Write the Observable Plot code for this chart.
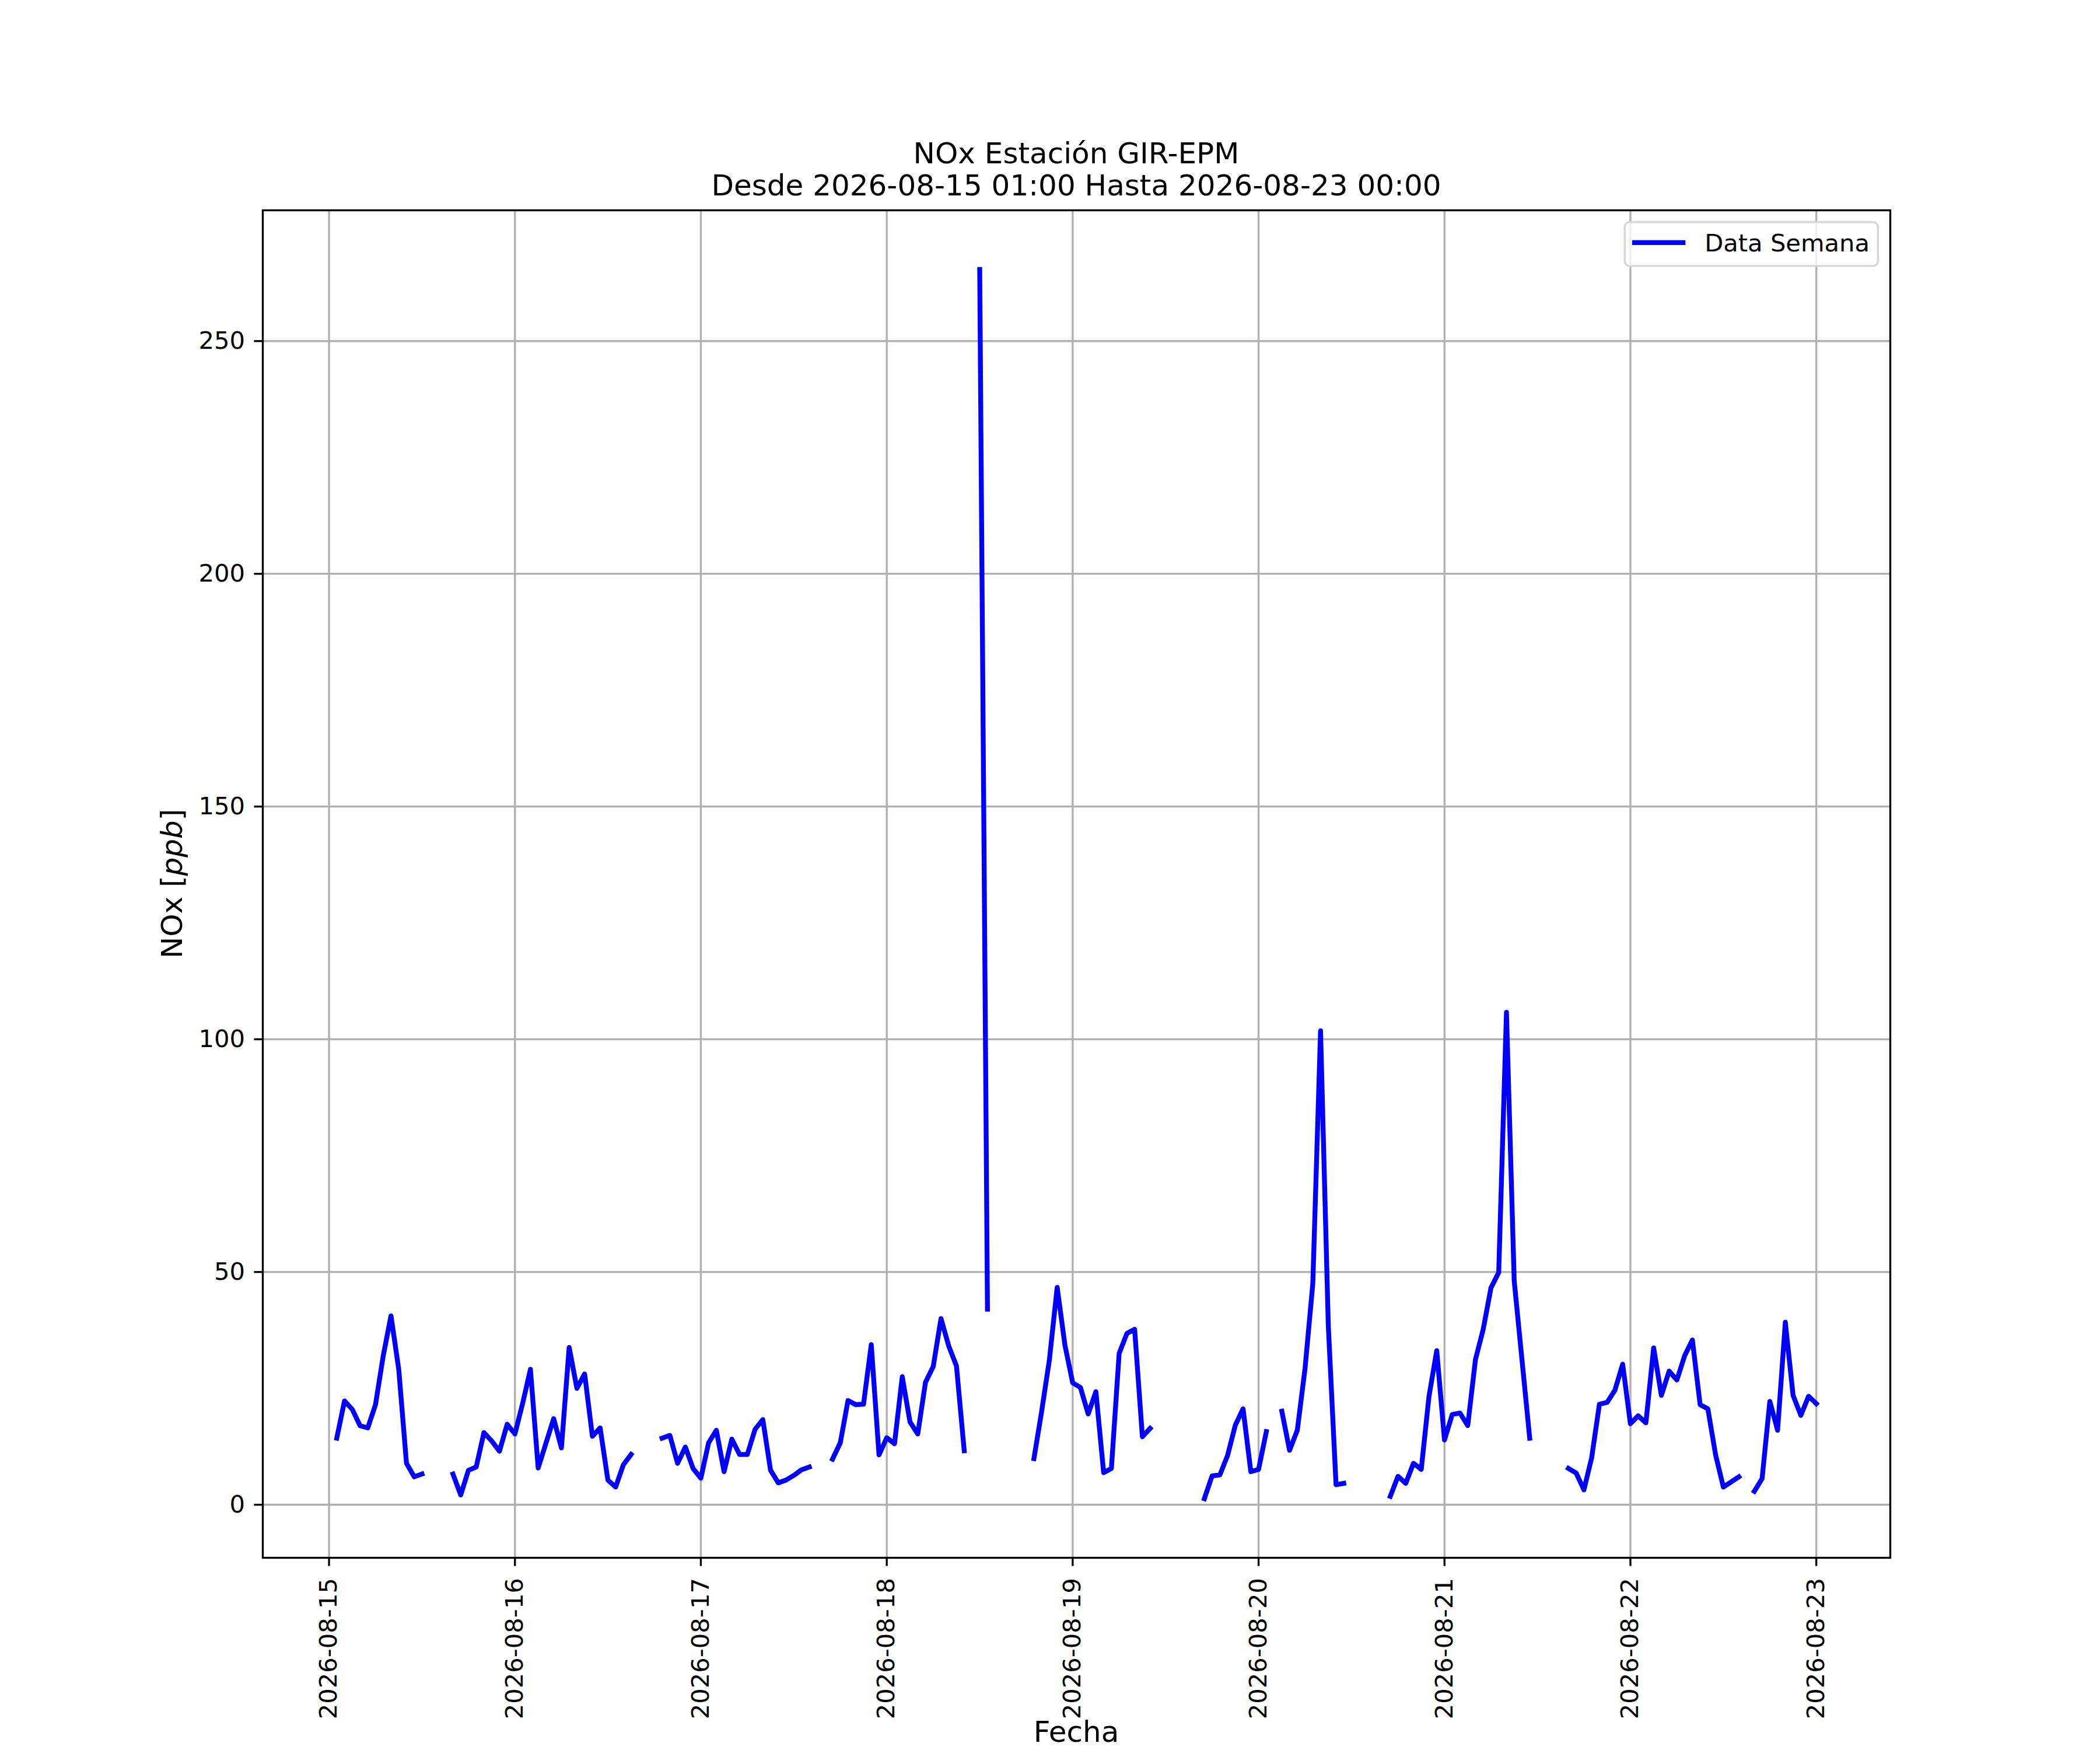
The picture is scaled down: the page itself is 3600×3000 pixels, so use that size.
<!DOCTYPE html>
<html>
<head>
<meta charset="utf-8">
<script src="https://cdn.jsdelivr.net/npm/d3@7"></script>
<script src="https://cdn.jsdelivr.net/npm/@observablehq/plot@0.6"></script>
<style>
  html, body { margin: 0; padding: 0; background: #ffffff; }
  svg { display: block; }
</style>
</head>
<body>
<div id="chart"></div>
<script>
// ---- Text ----
const titleLine1 = "NOx Estación GIR-EPM";
const titleLine2 = "Desde 2026-08-15 01:00 Hasta 2026-08-23 00:00";
const xLabel = "Fecha";
const seriesName = "Data Semana";

// ---- Ticks ----
const yTicks = [0, 50, 100, 150, 200, 250];
const xTickLabels = ["2026-08-15", "2026-08-16", "2026-08-17", "2026-08-18", "2026-08-19",
                     "2026-08-20", "2026-08-21", "2026-08-22", "2026-08-23"];

// ---- Data: hourly NOx [ppb], 01:00 .. 24:00 (next day 00:00) for each start day; null = missing ----
const days = ["2026-08-15", "2026-08-16", "2026-08-17", "2026-08-18",
              "2026-08-19", "2026-08-20", "2026-08-21", "2026-08-22"];
const nox15 = [14.3, 22.3, 20.5, 17.0, 16.5, 21.5, 32.0, 40.6, 29.1, 8.9, 6.0, 6.6,
               null, null, null, 6.6, 2.1, 7.4, 8.1, 15.5, 13.7, 11.5, 17.3, 15.2];
const nox16 = [21.8, 29.1, 7.9, 13.2, 18.5, 12.2, 33.8, 25.0, 28.1, 14.7, 16.5, 5.3,
               3.8, 8.6, 10.8, null, null, null, 14.3, 14.9, 8.9, 12.4, 7.8, 5.7];
const nox17 = [13.3, 16.0, 7.1, 14.1, 10.8, 10.8, 16.2, 18.3, 7.4, 4.7, 5.3, 6.3,
               7.5, 8.1, null, null, 9.8, 13.3, 22.4, 21.5, 21.6, 34.4, 10.7, 14.4];
const nox18 = [13.1, 27.5, 17.8, 15.2, 26.3, 29.7, 40.0, 34.1, 29.8, 11.6, null, 265.4,
               42.0, null, null, null, null, null, 9.9, 20.1, 31.2, 46.7, 34.3, 26.2];
const nox19 = [25.2, 19.5, 24.3, 6.9, 7.8, 32.5, 36.8, 37.7, 14.6, 16.4, null, null,
               null, null, null, null, 1.3, 6.2, 6.4, 10.6, 17.1, 20.6, 7.1, 7.6];
const nox20 = [15.7, null, 20.1, 11.7, 16.0, 29.3, 47.5, 101.8, 38.5, 4.3, 4.6, null,
               null, null, null, null, 1.8, 6.1, 4.6, 8.9, 7.6, 23.3, 33.1, 13.9];
const nox21 = [19.4, 19.7, 17.0, 31.2, 37.7, 46.6, 49.9, 105.8, 48.1, 31.2, 14.3, null,
               null, null, null, 7.8, 6.8, 3.2, 10.1, 21.6, 22.0, 24.6, 30.2, 17.4];
const nox22 = [19.1, 17.6, 33.7, 23.5, 28.7, 26.8, 32.0, 35.4, 21.5, 20.6, 10.7, 3.8,
               4.9, 6.0, null, 2.9, 5.6, 22.2, 16.0, 39.2, 23.5, 19.2, 23.3, 21.7];
const series = [nox15, nox16, nox17, nox18, nox19, nox20, nox21, nox22];

// Build the table the library needs
const data = [];
days.forEach((d, i) => {
  const base = new Date(d + "T00:00:00Z").getTime();
  series[i].forEach((v, h) => {
    data.push({date: new Date(base + (h + 1) * 3600e3), value: v == null ? NaN : v});
  });
});

const xTicks = xTickLabels.map(s => new Date(s + "T00:00:00Z"));
// matplotlib-like 5% margins
const t0 = data[0].date.getTime(), t1 = data[data.length - 1].date.getTime();
const pad = (t1 - t0) * 0.05;
const xDomain = [new Date(t0 - pad), new Date(t1 + pad)];
const yDomain = [-11.4, 278.1];

const W = 3600, H = 3000;
const mL = 450, mR = 360, mT = 360, mB = 330;
const gridColor = "#b0b0b0";
const lineW = 8.33;

const chart = Plot.plot({
  width: W,
  height: H,
  marginLeft: mL,
  marginRight: mR,
  marginTop: mT,
  marginBottom: mB,
  style: {fontFamily: "'DejaVu Sans', sans-serif", fontSize: "41.67px", background: "#ffffff", color: "#000000"},
  x: {type: "utc", domain: xDomain},
  y: {domain: yDomain},
  marks: [
    Plot.gridX(xTicks, {stroke: gridColor, strokeOpacity: 1, strokeWidth: 3.33}),
    Plot.gridY(yTicks, {stroke: gridColor, strokeOpacity: 1, strokeWidth: 3.33}),
    Plot.line(data, {x: "date", y: "value", stroke: "#0000ff", strokeWidth: lineW,
                     strokeLinecap: "square", strokeLinejoin: "round"}),
    Plot.frame({stroke: "#000000", strokeWidth: 3.33}),
    Plot.axisY(yTicks, {tickSize: 14.6, tickPadding: 16, strokeWidth: 3.33, label: null,
                        fontSize: 41.67, tickFormat: d => String(d)}),
    Plot.axisX(xTicks, {tickSize: 14.6, tickPadding: 20, tickRotate: -90, strokeWidth: 3.33,
                        label: null, fontSize: 41.67, tickFormat: d3.utcFormat("%Y-%m-%d")})
  ]
});

document.getElementById("chart").appendChild(chart);

// ---- Titles, axis labels and legend (text kept as real text) ----
const svg = d3.select(chart);
const cx = mL + (W - mL - mR) / 2;
const fam = "'DejaVu Sans', sans-serif";

svg.append("text").attr("x", cx).attr("y", 280).attr("text-anchor", "middle")
  .attr("font-family", fam).attr("font-size", 50).attr("fill", "#000").text(titleLine1);
svg.append("text").attr("x", cx).attr("y", 335).attr("text-anchor", "middle")
  .attr("font-family", fam).attr("font-size", 50).attr("fill", "#000").text(titleLine2);

svg.append("text").attr("x", cx).attr("y", 2986).attr("text-anchor", "middle")
  .attr("font-family", fam).attr("font-size", 50).attr("fill", "#000").text(xLabel);

const yl = svg.append("text")
  .attr("transform", `translate(312,${mT + (H - mT - mB) / 2}) rotate(-90)`)
  .attr("text-anchor", "middle").attr("font-family", fam).attr("font-size", 50).attr("fill", "#000");
yl.append("tspan").text("NOx [");
yl.append("tspan").attr("font-style", "italic").text("ppb");
yl.append("tspan").text("]");

// Legend
const lgRight = W - mR - 20.8, lgTop = mT + 20.8;
const lgW = 434, lgH = 75;
const lg = svg.append("g");
lg.append("rect").attr("x", lgRight - lgW).attr("y", lgTop).attr("width", lgW).attr("height", lgH)
  .attr("rx", 8).attr("fill", "#ffffff").attr("fill-opacity", 0.8)
  .attr("stroke", "#d6d6d6").attr("stroke-width", 3.33);
lg.append("line").attr("x1", lgRight - lgW + 17).attr("x2", lgRight - lgW + 100)
  .attr("y1", lgTop + 35).attr("y2", lgTop + 35)
  .attr("stroke", "#0000ff").attr("stroke-width", lineW).attr("stroke-linecap", "square");
lg.append("text").attr("x", lgRight - lgW + 137).attr("y", lgTop + 50).attr("text-anchor", "start")
  .attr("font-family", fam).attr("font-size", 41.67).attr("fill", "#000").text(seriesName);
</script>
</body>
</html>
